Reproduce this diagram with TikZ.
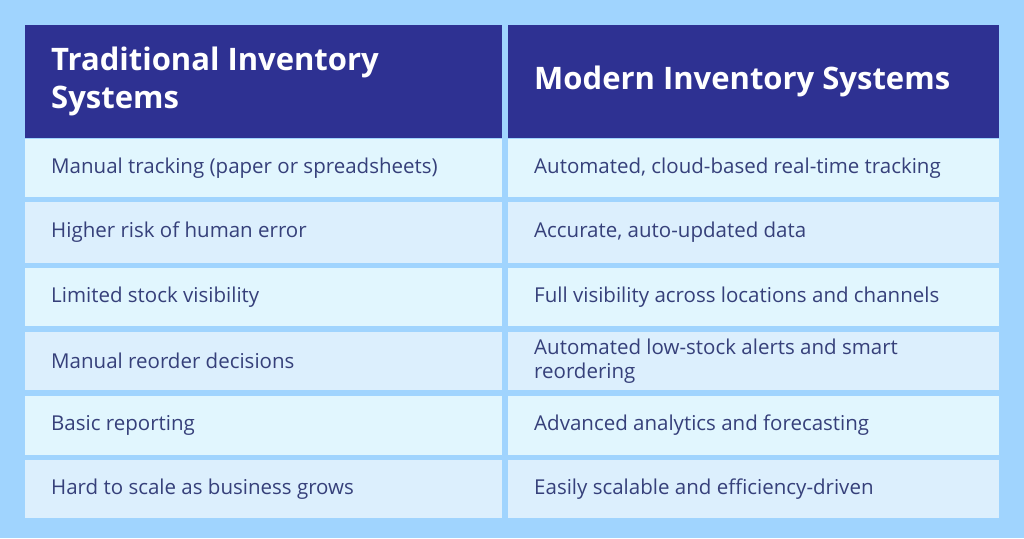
\documentclass[tikz,border=0pt]{standalone}
\usepackage{fontspec}
\setmainfont{Open Sans}
\definecolor{bg}{HTML}{A0D4FE}
\definecolor{hd}{HTML}{2E3192}
\definecolor{ca}{HTML}{E1F6FE}
\definecolor{cb}{HTML}{DCEFFD}
\definecolor{tx}{HTML}{36407A}
\begin{document}
\begin{tikzpicture}[x=1pt,y=-1pt,
  head/.style={anchor=west,text=white,font=\fontsize{31}{38}\selectfont\bfseries,align=left,inner sep=0pt},
  body/.style={anchor=west,text=tx,font=\fontsize{20.5}{24}\selectfont,align=left,inner sep=0pt}]
\fill[bg] (0,0) rectangle (1024,538);
\useasboundingbox (0,0) rectangle (1024,538);
\fill[hd] (25,25) rectangle (502,138);
\fill[hd] (508,25) rectangle (999,138);
\node[head] (h1) at (51,81) {Traditional Inventory\\Systems};
\node[head] (h2) at (534,81) {Modern Inventory Systems};
\def\rows{139/197/ca/Manual tracking (paper or spreadsheets)/{Automated, cloud-based real-time tracking},
202/263/cb/Higher risk of human error/{Accurate, auto-updated data},
268/326/ca/Limited stock visibility/Full visibility across locations and channels,
332/390/cb/Manual reorder decisions/{Automated low-stock alerts and smart\\reordering},
396/455/ca/Basic reporting/Advanced analytics and forecasting,
460/518/cb/Hard to scale as business grows/Easily scalable and efficiency-driven}
\foreach \a/\b/\c/\l/\r [count=\i] in \rows {
  \fill[\c] (25,\a) rectangle (502,\b);
  \fill[\c] (508,\a) rectangle (999,\b);
  \node[body] (l\i) at (51,{(\a+\b)/2}) {\l};
  \node[body] (r\i) at (534,{(\a+\b)/2}) {\r};
}
\end{tikzpicture}
\end{document}
